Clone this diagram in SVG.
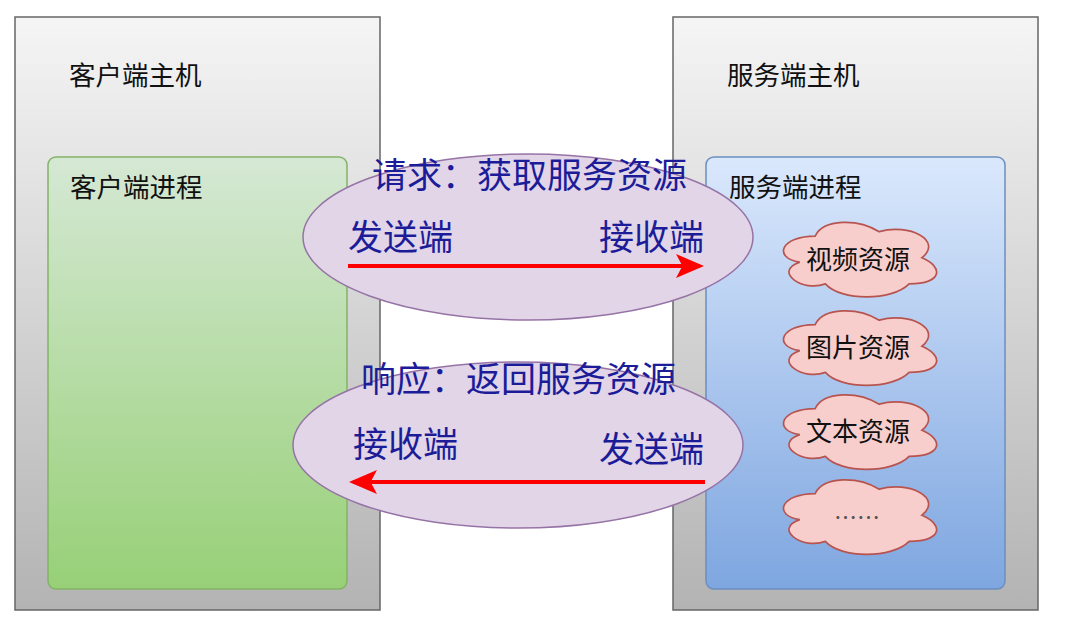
<svg xmlns="http://www.w3.org/2000/svg" width="1072" height="627" viewBox="0 0 1072 627">
<style>
.lbl{font-family:"Noto Sans CJK SC","Noto Sans",sans-serif;fill:#111;font-size:26.5px}
.blu{font-family:"Noto Sans CJK SC","Noto Sans",sans-serif;fill:#1c1c99;font-size:35px}
.cl{font-family:"Noto Sans CJK SC","Noto Sans",sans-serif;fill:#111;font-size:26px;text-anchor:middle}
.host{stroke:#666;stroke-width:1.5;fill:url(#gHost)}
.ell{fill:#e1d5e7;stroke:#9673a6;stroke-width:1.5}
.cloud{fill:#f8cecc;stroke:#b85450;stroke-width:1.5;vector-effect:non-scaling-stroke}
.arr{stroke:#ff0000;stroke-width:4;fill:none}
</style>
<defs>
<linearGradient id="gHost" x1="0" y1="0" x2="0" y2="1"><stop offset="0" stop-color="#f5f5f5"/><stop offset="1" stop-color="#b3b3b3"/></linearGradient>
<linearGradient id="gGreen" x1="0" y1="0" x2="0" y2="1"><stop offset="0" stop-color="#d5e8d4"/><stop offset="1" stop-color="#97d077"/></linearGradient>
<linearGradient id="gBlue" x1="0" y1="0" x2="0" y2="1"><stop offset="0" stop-color="#dae8fc"/><stop offset="1" stop-color="#7ea6e0"/></linearGradient>
<path id="cloudShape" d="M38.25 18.75 C7.65 18.75 0 37.5 24.48 41.25 C0 49.5 27.54 67.5 47.43 60 C61.2 75 107.1 75 122.4 60 C153 60 153 45 133.875 37.5 C153 22.5 122.4 7.5 95.625 15 C76.5 3.75 45.9 3.75 38.25 18.75 Z"/>
<marker id="ah" markerWidth="7" markerHeight="6" refX="6" refY="3" orient="auto" markerUnits="strokeWidth">
<path d="M0 0 L7 3 L0 6 L1.6 3 Z" fill="#ff0000"/>
</marker>
</defs>

<g id="client-host">
<rect class="host" x="15" y="17" width="365" height="593"/>
<text class="lbl" x="69" y="85">客户端主机</text>
</g>
<g id="server-host">
<rect class="host" x="673" y="17" width="365" height="593"/>
<text class="lbl" x="727" y="85">服务端主机</text>
</g>
<g id="client-process">
<rect x="48" y="157" width="299" height="432" rx="8" fill="url(#gGreen)" stroke="#82b366" stroke-width="1.5"/>
<text class="lbl" x="70" y="197">客户端进程</text>
</g>
<g id="server-process">
<rect x="706" y="157" width="299" height="432" rx="8" fill="url(#gBlue)" stroke="#6c8ebf" stroke-width="1.5"/>
<text class="lbl" x="729" y="197">服务端进程</text>
</g>

<g id="request">
<ellipse class="ell" cx="528" cy="237" rx="225" ry="83"/>
<text class="blu" x="372" y="188">请求：获取服务资源</text>
<text class="blu" x="348" y="250">发送端</text>
<text class="blu" x="599" y="250">接收端</text>
</g>
<g id="response">
<ellipse class="ell" cx="518" cy="445" rx="225" ry="83"/>
<text class="blu" x="361" y="392">响应：返回服务资源</text>
<text class="blu" x="353" y="457">接收端</text>
<text class="blu" x="599" y="462">发送端</text>
</g>

<g id="res-video">
<use href="#cloudShape" class="cloud" transform="translate(772.4,214.3) scale(1.117,1.16)"/>
<text class="cl" x="858" y="269">视频资源</text>
</g>
<g id="res-image">
<use href="#cloudShape" class="cloud" transform="translate(772.4,302.8) scale(1.117,1.16)"/>
<text class="cl" x="858" y="357">图片资源</text>
</g>
<g id="res-text">
<use href="#cloudShape" class="cloud" transform="translate(772.4,386.8) scale(1.117,1.16)"/>
<text class="cl" x="858" y="441">文本资源</text>
</g>
<g id="res-more">
<use href="#cloudShape" class="cloud" transform="translate(772.4,471.8) scale(1.117,1.16)"/>
<text class="cl" x="857" y="526" style="font-size:23px;fill:#555">……</text>
</g>

<g id="connectors">
<line class="arr" x1="348" y1="266" x2="700" y2="266" marker-end="url(#ah)"/>
<line class="arr" x1="705" y1="482" x2="353" y2="482" marker-end="url(#ah)"/>
</g>
</svg>
